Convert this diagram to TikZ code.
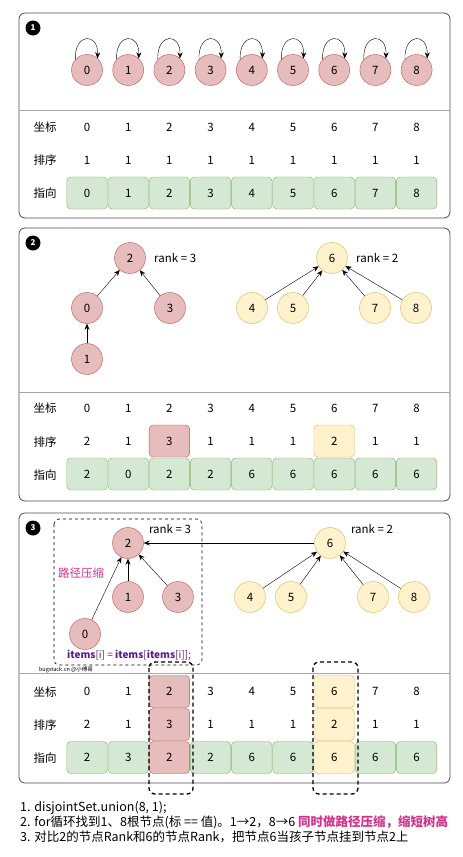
\documentclass[tikz,border=0pt]{standalone}
\usepackage{fontspec}
\usepackage{tikz}
\usetikzlibrary{arrows.meta,positioning}
\newfontfamily\cjk{Noto Sans CJK SC}
\definecolor{redfill}{HTML}{E6BDBC}
\definecolor{redline}{HTML}{B85450}
\definecolor{yelfill}{HTML}{FFF2CC}
\definecolor{yelline}{HTML}{D6B656}
\definecolor{grnfill}{HTML}{D5E8D4}
\definecolor{grnline}{HTML}{82B366}
\definecolor{pinktxt}{HTML}{D0318A}
\definecolor{codetxt}{HTML}{5B1F8C}

\begin{document}
\begin{tikzpicture}[x=1pt,y=-1pt,font=\cjk\fontsize{11.5}{13}\selectfont,
    >={Stealth[length=6pt,width=5pt]},
    panel/.style={draw=black!70,rounded corners=6pt,line width=0.8pt},
    tag/.style={circle,fill=black,text=white,inner sep=0pt,minimum size=15pt,font=\cjk\fontsize{8}{9}\selectfont\bfseries},
    rnode/.style={circle,draw=redline,fill=redfill,minimum size=31pt,inner sep=0pt},
    ynode/.style={circle,draw=yelline,fill=yelfill,minimum size=31pt,inner sep=0pt},
    plain/.style={inner sep=0pt},
    gcell/.style={draw=grnline,fill=grnfill,rounded corners=4pt,minimum width=40.5pt,minimum height=32pt,inner sep=0pt},
    rcell/.style={gcell,draw=redline,fill=redfill},
    ycell/.style={gcell,draw=yelline,fill=yelfill},
    colbox/.style={draw,line width=1.3pt,dash pattern=on 4pt off 3pt,rounded corners=6pt},
    divide/.style={draw=black!35,line width=0.6pt}]
\useasboundingbox (0,0) rectangle (463,857);

% ---------- panel 1
\draw[panel] (19,13) rectangle (450,218);
\node[tag] (t1) at (33,28) {1};
\foreach \i in {0,...,8}{
  \node[rnode] (a\i) at (87+41.2*\i,70) {\i};
  \draw[->] (a\i.138) .. controls +(-1,-27) and +(1,-26) .. (a\i.48);
}
\draw[divide] (19,110) -- (450,110);
\node (ka) at (45,127) {坐标};
\node (pa) at (45,160) {排序};
\node (za) at (45,193) {指向};
\foreach \i in {0,...,8}{
  \node[plain] (ia\i) at (87+41.2*\i,127) {\i};
  \node[plain] (ra\i) at (87+41.2*\i,160) {1};
  \node[gcell] (ga\i) at (87+41.2*\i,193) {\i};
}

% ---------- panel 2
\draw[panel] (19,228) rectangle (450,501);
\node[tag] (t2) at (33,243) {2};
\node[rnode] (b2) at (130,258) {2};
\node[right=5pt of b2] (rk2) {rank = 3};
\node[rnode] (b0) at (87,308) {0};
\node[rnode] (b3) at (170,308) {3};
\node[rnode] (b1) at (87,359) {1};
\node[ynode] (b6) at (332,258) {6};
\node[right=5pt of b6] (rk6) {rank = 2};
\node[ynode] (b4) at (252,308) {4};
\node[ynode] (b5) at (293,308) {5};
\node[ynode] (b7) at (375,308) {7};
\node[ynode] (b8) at (416,308) {8};
\draw[->] (b0) -- (b2);
\draw[->] (b3) -- (b2);
\draw[->] (b1) -- (b0);
\foreach \c in {4,5,7,8}
  \draw[->] (b\c) -- (b6);
\draw[divide] (19,392) -- (450,392);
\node (kb) at (45,408) {坐标};
\node (pb) at (45,442) {排序};
\node (zb) at (45,475) {指向};
\foreach \v/\s [count=\i from 0] in {2/plain,1/plain,3/rcell,1/plain,1/plain,1/plain,2/ycell,1/plain,1/plain}{
  \node[plain] (ib\i) at (87+41.2*\i,408) {\i};
  \node[\s] (rb\i) at (87+41.2*\i,441) {\v};
}
\foreach \v [count=\i from 0] in {2,0,2,2,6,6,6,6,6}
  \node[gcell] (gb\i) at (87+41.2*\i,474) {\v};

% ---------- panel 3
\draw[panel] (19,513) rectangle (450,783);
\node[tag] (t3) at (33,528) {3};
\draw[dashed,rounded corners=5pt,line width=0.6pt] (54,519) rectangle (202,665);
\node[rnode] (c2) at (128,543) {2};
\node (rk3) at (170,529) {rank = 3};
\node[ynode] (c6) at (330,543) {6};
\node (rk4) at (372,529) {rank = 2};
\node[text=pinktxt] (pc) at (81,573) {路径压缩};
\node[rnode] (c1) at (128,597) {1};
\node[rnode] (c3) at (178,597) {3};
\node[rnode] (c0) at (85,634) {0};
\node[ynode] (c4) at (250,597) {4};
\node[ynode] (c5) at (291,597) {5};
\node[ynode] (c7) at (373,597) {7};
\node[ynode] (c8) at (414,597) {8};
\draw[->] (c6) -- (c2);
\foreach \c in {0,1,3}
  \draw[->] (c\c) -- (c2);
\foreach \c in {4,5,7,8}
  \draw[->] (c\c) -- (c6);
\node[text=codetxt,font=\cjk\fontsize{10}{11}\selectfont] (code) at (129,655)
  {\textbf{items}[i] = \textbf{items}[\textbf{items}[i]];};
\draw[divide] (19,673) -- (450,673);
\node[font=\cjk\fontsize{5.5}{6}\selectfont] (wm) at (66,670) {bugstack.cn @小傅哥};
\node (kc) at (45,692) {坐标};
\node (pc2) at (45,725) {排序};
\node (zc) at (45,758) {指向};
\foreach \s [count=\i from 0] in {plain,plain,rcell,plain,plain,plain,ycell,plain,plain}
  \node[\s] (ic\i) at (87+41.2*\i,691.5) {\i};
\foreach \v/\s [count=\i from 0] in {2/plain,1/plain,3/rcell,1/plain,1/plain,1/plain,2/ycell,1/plain,1/plain}
  \node[\s] (rc\i) at (87+41.2*\i,724.5) {\v};
\foreach \v/\s [count=\i from 0] in {2/gcell,3/gcell,2/rcell,2/gcell,6/gcell,6/gcell,6/ycell,6/gcell,6/gcell}
  \node[\s] (gc\i) at (87+41.2*\i,757.5) {\v};
\draw[colbox] (149,662) rectangle (193,794);
\draw[colbox] (313,662) rectangle (358,794);

% ---------- notes
\begin{scope}[font=\cjk\fontsize{12.5}{14}\selectfont]
\node[anchor=west,inner sep=0pt] (n1) at (20,808) {1. disjointSet.union(8, 1);};
\node[anchor=west,inner sep=0pt] (n2) at (20,822) {2. for循环找到1、8根节点(标 == 值)。1→2，8→6 \textcolor{pinktxt}{\textbf{同时做路径压缩，缩短树高}}};
\node[anchor=west,inner sep=0pt] (n3) at (20,837) {3. 对比2的节点Rank和6的节点Rank，把节点6当孩子节点挂到节点2上};
\end{scope}
\end{tikzpicture}
\end{document}
